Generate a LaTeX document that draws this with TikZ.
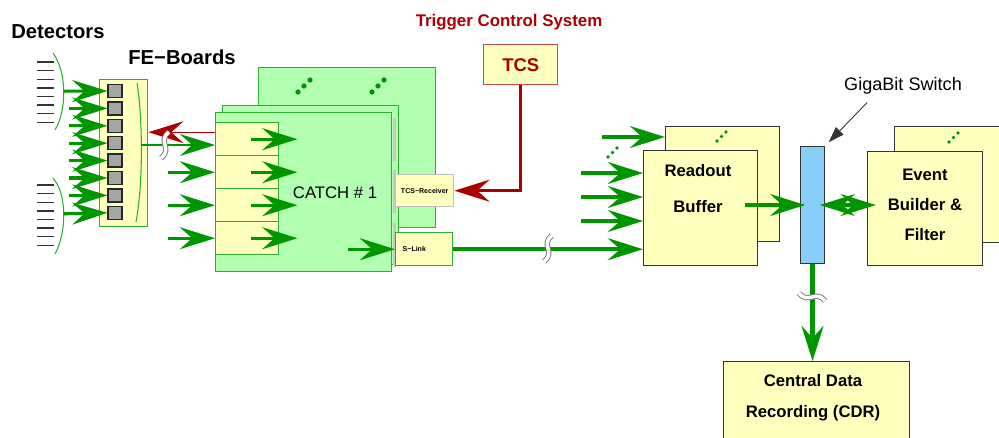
\documentclass[tikz,border=0pt]{standalone}
\usepackage{fontspec}
\setmainfont{Liberation Sans}
\usetikzlibrary{arrows.meta}

\definecolor{flowgreen}{RGB}{0,150,0}
\definecolor{boardgreen}{RGB}{178,255,178}
\definecolor{edgegreen}{RGB}{45,175,45}
\definecolor{paleyellow}{RGB}{255,255,190}
\definecolor{tcsred}{RGB}{170,0,0}
\definecolor{switchblue}{RGB}{135,206,250}

\tikzset{
  cutmark/.pic={\draw[black!55, line width=0.5pt, double=white, double distance=2pt]
    (4,-13) .. controls (-8,-4) and (8,4) .. (-4,13);},
  bigtip/.tip={Stealth[length=20pt, width=12.5pt, inset=7pt]}
}

\begin{document}
\begin{tikzpicture}[x=0.02cm, y=-0.02cm,
    board/.style={draw=edgegreen, fill=boardgreen, line width=0.8pt, inner sep=0pt, anchor=north west},
    unit/.style={draw=edgegreen, fill=paleyellow, line width=0.8pt, inner sep=0pt, anchor=north west},
    crate/.style={draw=black!80, fill=paleyellow, line width=0.6pt, inner sep=0pt, anchor=north west},
    chip/.style={draw=black!85, fill=black!35, line width=0.7pt, minimum width=0.28cm, minimum height=0.26cm, inner sep=0pt},
    flow/.style={draw=flowgreen, line width=1.8pt, -bigtip},
    redflow/.style={draw=tcsred, line width=2pt, -bigtip},
    headtext/.style={font=\bfseries\fontsize{11.5}{13}\selectfont},
    boxtext/.style={font=\bfseries\fontsize{9.5}{17}\selectfont, align=center},
    smalltext/.style={font=\bfseries\fontsize{4}{5}\selectfont}
  ]
  \useasboundingbox (0,0) rectangle (999,437);
  \clip (0,0) rectangle (999,437);

  \node[headtext] (dettitle) at (58,32) {Detectors};
  \node[headtext] (fetitle) at (182,57) {FE−Boards};
  \node[headtext, text=tcsred, font=\bfseries\fontsize{9.6}{11}\selectfont] (tcstitle) at (509,22) {Trigger Control System};

  \foreach \k in {0,...,7} {
    \draw[black!80, line width=0.8pt] (37,{62+8.6*\k}) -- (54,{62+8.6*\k});
    \draw[black!80, line width=0.8pt] (37,{185+8.6*\k}) -- (54,{185+8.6*\k});
  }
  \draw[edgegreen, line width=0.6pt] (53,53) .. controls (67,72) and (67,110) .. (55,130) coordinate[pos=0.5] (det1);
  \draw[edgegreen, line width=0.6pt] (53,178) .. controls (67,194) and (67,232) .. (55,254) coordinate[pos=0.5] (det2);

  \node[unit, minimum width=0.96cm, minimum height=2.94cm] (fe) at (99,79) {};
  \foreach \i in {1,...,8}
    \node[chip] (sq\i) at (115,{91+17.4*(\i-1)}) {};
  \draw[edgegreen, line width=0.6pt] (137,83) .. controls (143,120) and (143,185) .. (136,222);
  \coordinate (feout) at (141.3,145);

  \draw[flow] (det1) -- (sq1.west);
  \draw[flow] (det2) -- (sq8.west);
  \foreach \i in {2,...,7}
    \draw[flow] (sq\i.west) ++(-38,0) -- (sq\i.west);

  \node[board, minimum width=3.54cm, minimum height=3.2cm] (cb) at (258,67) {};
  \node[board, minimum width=3.52cm, minimum height=3.18cm] (cm) at (222,105) {};
  \node[board, minimum width=3.52cm, minimum height=3.18cm] (cf) at (215,112) {};
  \foreach \a/\b in {118/161,170/213,223/267}
    \draw[black!22, line width=1.4pt] (394.5,\a) -- (394.5,\b);
  \foreach \px/\py in {298/92,372/92}
    \foreach \k in {0,1,2}
      \fill[flowgreen] ({\px+\k*6},{\py-\k*6}) circle (1.5pt);

  \foreach \i in {1,...,4}
    \node[unit, minimum width=1.26cm, minimum height=0.66cm] (m\i) at (215,{122+33*(\i-1)}) {};
  \foreach \i in {1,...,4}
    \draw[flow] (m\i.east) ++(-28,0) -- ++(46,0);
  \foreach \i in {2,...,4}
    \draw[flow] (m\i.west) ++(-47,0) -- (m\i.west);
  \node[font=\fontsize{9.5}{11}\selectfont] (catch) at (335,193) {CATCH \# 1};

  \node[unit, draw=black!25, minimum width=1.16cm, minimum height=0.64cm, smalltext] (tcsr) at (395,174) {TCS−Receiver};
  \node[unit, minimum width=1.14cm, minimum height=0.66cm, smalltext, text width=0.86cm, align=left] (slink) at (395,232) {S−Link};
  \draw[flow] (slink.west) ++(-47,0) -- (slink.west);

  \draw[redflow, line width=0.6pt] (m1.west) ++(0,-7) coordinate (rin) -- (rin -| fe.east);
  \draw[flow, line width=0.6pt] (feout) -- (feout -| m1.west);
  \pic at (165,145) {cutmark};

  \node[unit, draw=tcsred!70, minimum width=1.48cm, minimum height=0.8cm, text=tcsred, font=\bfseries\fontsize{10.5}{12}\selectfont] (tcs) at (483,44) {TCS};
  \draw[redflow] (tcs.south) |- (tcsr.east);

  \node[crate, minimum width=2.28cm, minimum height=2.3cm] (rbb) at (665,126) {};
  \node[crate, minimum width=2.28cm, minimum height=2.3cm] (rb) at (643,150) {};
  \node[boxtext, font=\bfseries\fontsize{9.5}{20.5}\selectfont] (rbtext) at (698,189) {Readout\\Buffer};
  \foreach \px/\py/\s in {717/141/4.5,608/157/4.5}
    \foreach \k in {0,1,2}
      \fill[flowgreen] ({\px+\k*\s},{\py-\k*\s}) circle (1.1pt);
  \draw[flow] (rbb.north west) ++(-63,11) -- ++(63,0);
  \foreach \dy in {23,47,71}
    \draw[flow] (rb.north west) ++(-62,\dy) -- ++(62,0);
  \draw[flow, line width=2.6pt] (slink.east) -- (slink.east -| rb.west);
  \pic at (548,248.5) {cutmark};

  \node[draw=black!80, fill=switchblue, line width=0.6pt, minimum width=0.48cm, minimum height=2.34cm, inner sep=0pt, anchor=north west] (sw) at (800,146) {};
  \node[font=\fontsize{10.3}{12}\selectfont] (gbs) at (903,86) {GigaBit Switch};
  \draw[black!80, line width=0.5pt, -{Triangle[length=9pt, width=6pt]}, shorten >=3pt] (gbs.south) ++(-36,2) -- (sw.north east);
  \draw[flow, shorten >=-3pt] (sw.west) ++(-55,0) -- (sw.west);

  \node[crate, minimum width=2.3cm, minimum height=2.32cm] (ebb) at (894,126) {};
  \node[crate, minimum width=2.3cm, minimum height=2.28cm] (eb) at (867,151) {};
  \node[boxtext] (ebtext) at (925,205) {Event\\Builder \&\\Filter};
  \foreach \k in {0,1,2}
    \fill[flowgreen] ({949+\k*4.5},{142-\k*4.5}) circle (1.1pt);
  \draw[flow, bigtip-bigtip, shorten <=-3pt, shorten >=-5pt] (sw.east) -- (sw.east -| eb.west);

  \node[crate, minimum width=3.72cm, minimum height=1.56cm] (cdr) at (723,361) {};
  \node[boxtext, font=\bfseries\fontsize{9.5}{17.6}\selectfont] (cdrtext) at (813,398) {Central Data\\Recording (CDR)};
  \draw[flow, line width=2.6pt] (sw.south) -- (sw.south |- cdr.north);
  \pic[rotate=90] at (812,297) {cutmark};
\end{tikzpicture}
\end{document}
